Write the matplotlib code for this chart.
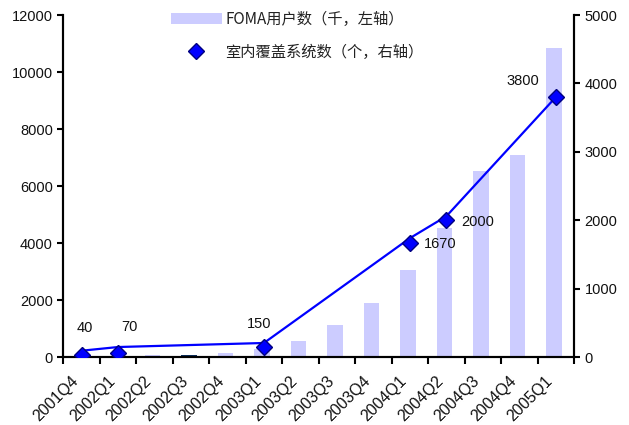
import matplotlib
matplotlib.use("Agg")
import matplotlib.pyplot as plt
from matplotlib.patches import Patch
from matplotlib.lines import Line2D
import numpy as np

categories = ["2001Q4", "2002Q1", "2002Q2", "2002Q3", "2002Q4", "2003Q1", "2003Q2",
              "2003Q3", "2003Q4", "2004Q1", "2004Q2", "2004Q3", "2004Q4", "2005Q1"]
foma_users = [0, 30, 90, 90, 150, 300, 570, 1130, 1900, 3060, 4530, 6530, 7090, 10850]
bar_colors = ["#CCCCFF"] * 3 + ["#0A2F5C"] + ["#CCCCFF"] * 10
sys_idx = [0, 1, 5, 9, 10, 13]
sys_values = [40, 70, 150, 1670, 2000, 3800]
line_values = [96, 150, 209, 1740, 2060, 3800]
label_offsets = [(3, 28), (11, 27), (-5, 24), (30, 0), (31, 0), (-33, 18)]

plt.rcParams['font.family'] = ['Liberation Sans', 'DejaVu Sans']

fig = plt.figure(figsize=(6.29, 4.25), dpi=100)
ax = fig.add_axes([0.1006, 0.1593, 0.812, 0.8054])
ax2 = ax.twinx()

x = np.arange(len(categories))
ax.bar(x - 0.05, foma_users, width=0.42, color=bar_colors, zorder=1)
ax.set_xlim(-0.5, len(categories) - 0.5)
ax.set_ylim(0, 12000)
ax.set_yticks(np.arange(0, 12001, 2000))
ax2.set_ylim(0, 5000)
ax2.set_yticks(np.arange(0, 5001, 1000))

xs = [x[i] for i in sys_idx]
ax2.plot(xs, line_values, color="#0000FF", lw=1.6, zorder=3)
ax2.plot(xs, sys_values, linestyle="none", marker="D", markersize=8.5,
         markerfacecolor="#0000FF", markeredgecolor="#000080", markeredgewidth=1, zorder=4)

for xi, v, (dx, dy) in zip(xs, sys_values, label_offsets):
    ax2.annotate(str(v), xy=(xi, v), xytext=(dx * 0.72, dy * 0.72 - 1), textcoords="offset points",
                 ha="center", va="center", fontsize=10.5, color="#111111")

ax.set_xticks(x)
ax.set_xticklabels(categories, rotation=45, ha="right", va="bottom",
                   rotation_mode="anchor", fontsize=11.5, color="#111111")
ax.set_xticks(np.arange(-0.5, len(categories), 1.0), minor=True)
ax.tick_params(axis="x", which="major", length=0, pad=19)
ax.tick_params(axis="x", which="minor", length=5, width=1.5, direction="out")
ax.tick_params(axis="y", length=4, width=1.5, labelsize=10.5, direction="out", labelcolor="#111111")
ax2.tick_params(axis="y", length=4, width=1.5, labelsize=10.5, direction="out", labelcolor="#111111")

for a in (ax, ax2):
    a.spines["top"].set_visible(False)
    for s in ("left", "right", "bottom"):
        a.spines[s].set_linewidth(1.5)

handles = [Patch(facecolor="#CCCCFF", edgecolor="none"),
           Line2D([], [], linestyle="none", marker="D", markersize=8.5,
                  markerfacecolor="#0000FF", markeredgecolor="#000080")]
labels = ["FOMA用户数（千，左轴）", "室内覆盖系统数（个，右轴）"]
leg = fig.legend(handles, labels, loc="upper left", bbox_to_anchor=(0.255, 1.0),
                 frameon=False, handlelength=3.3, handleheight=0.75, labelspacing=1.05,
                 handletextpad=0.25, borderpad=0.2,
                 prop={"family": ["Noto Sans CJK SC", "DejaVu Sans"], "size": 11})
for t in leg.get_texts():
    t.set_color("#222222")

fig.savefig("out.png", dpi=100)
